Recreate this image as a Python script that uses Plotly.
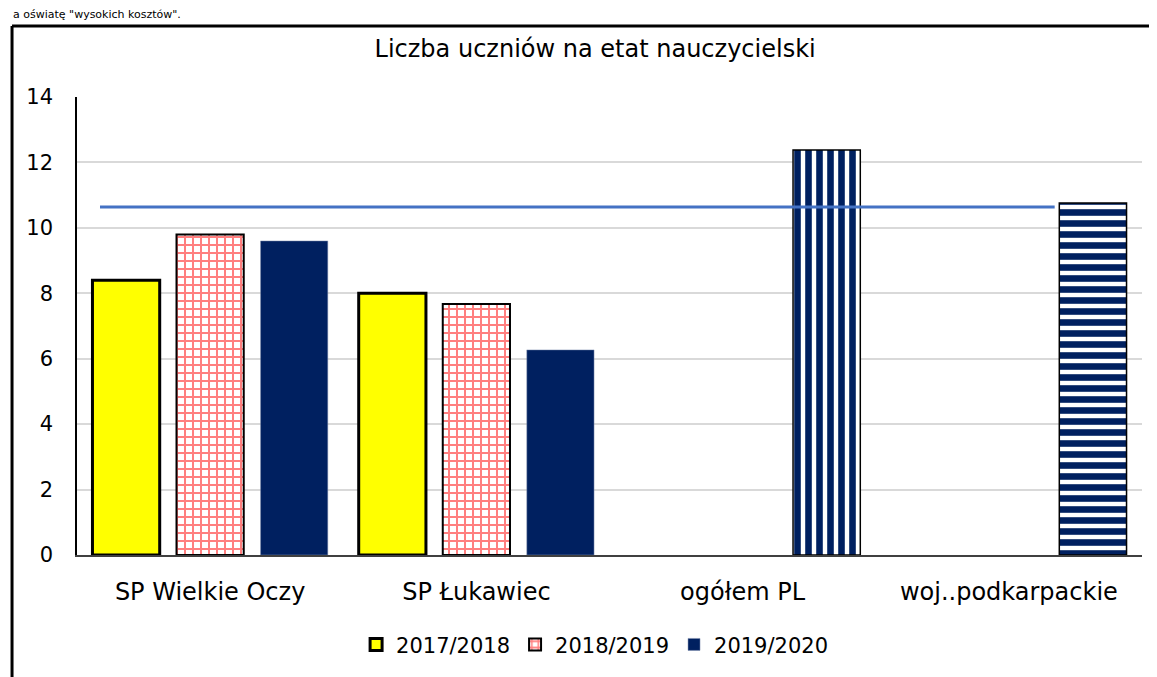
import plotly.graph_objects as go

categories = ["SP Wielkie Oczy", "SP Łukawiec", "ogółem PL", "woj..podkarpackie"]
series_names = ["2017/2018", "2018/2019", "2019/2020"]
v_2017 = [8.4, 8.0, None, None]
v_2018 = [9.8, 7.67, None, None]
v_2019 = [9.6, 6.27, 12.38, 10.76]
avg_line = 10.64
title_text = "Liczba uczniów na etat nauczycielski"
top_text = "a oświatę \"wysokich kosztów\"."

FONT = "DejaVu Sans"
NAVY = "#002060"

fig = go.Figure()
fig.add_trace(go.Bar(
    name=series_names[0], x=categories, y=v_2017,
    marker=dict(color="#FFFF00", line=dict(color="black", width=3)),
))
fig.add_trace(go.Bar(
    name=series_names[1], x=categories, y=v_2018,
    marker=dict(color="white", line=dict(color="black", width=2),
                pattern=dict(shape="+", fgcolor="#FF0000", bgcolor="white",
                             size=8, solidity=0.44, fillmode="overlay")),
))
fig.add_trace(go.Bar(
    name=series_names[2], x=categories, y=v_2019,
    marker=dict(color=NAVY,
                line=dict(color=["#8090b0", "#8090b0", "black", "black"], width=[0.5, 0.5, 1.5, 1.5]),
                pattern=dict(shape=["", "", "|", "-"], bgcolor="white",
                             size=11, solidity=0.6, fillmode="replace")),
))

fig.add_shape(type="line", xref="paper", yref="y", x0=0.0216, x1=0.918,
              y0=avg_line, y1=avg_line, line=dict(color="#4472C4", width=3), layer="above")

# outer frame (top and left edges)
fig.add_shape(type="line", xref="paper", yref="paper", x0=-0.061, x1=1.2, y0=1.155, y1=1.155,
              line=dict(color="black", width=3))
fig.add_shape(type="line", xref="paper", yref="paper", x0=-0.061, x1=-0.061, y0=1.155, y1=-0.3,
              line=dict(color="black", width=3))

fig.add_annotation(text=top_text, xref="paper", yref="paper", x=-0.062, y=1.162,
                   xanchor="left", yanchor="bottom", showarrow=False,
                   font=dict(family=FONT, size=11, color="black"))

fig.update_layout(
    width=1149, height=669,
    margin=dict(l=69, r=15, t=89, b=122),
    paper_bgcolor="white", plot_bgcolor="white",
    barmode="group", bargap=0.053, bargroupgap=0.2,
    title=dict(text=title_text, x=0.511, xanchor="center", y=0.940, yanchor="middle",
               font=dict(family=FONT, size=24, color="black")),
    font=dict(family=FONT, size=21, color="black"),
    legend=dict(orientation="h", x=0.486, xanchor="center", y=-0.196, yanchor="middle",
                font=dict(family=FONT, size=21), traceorder="normal"),
    showlegend=True,
)
fig.update_yaxes(range=[0, 14], dtick=2, showgrid=True, gridcolor="#D9D9D9", gridwidth=1.5,
                 showline=True, linecolor="black", linewidth=1.5, ticks="",
                 ticklabelstandoff=18, tickfont=dict(family=FONT, size=21), zeroline=False)
fig.update_xaxes(showline=True, linecolor="#404040", linewidth=1.5, ticks="",
                 ticklabelstandoff=14, tickfont=dict(family=FONT, size=24))

fig.write_html("out.html")
